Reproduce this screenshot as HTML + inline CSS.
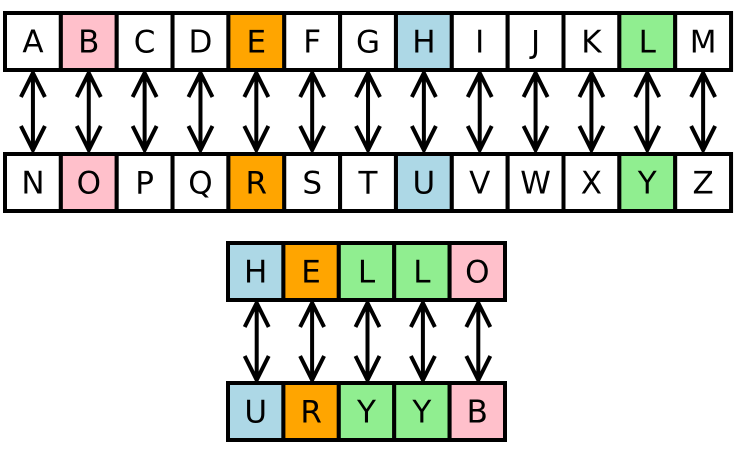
<!DOCTYPE html>
<html><head><style>body{margin:0;background:#fff}svg{display:block}</style></head><body>
<svg width="736" height="454" viewBox="0 0 736 454" xmlns="http://www.w3.org/2000/svg" font-family="'DejaVu Sans','Liberation Sans',sans-serif" font-size="31" text-anchor="middle">
<g id="g"></g>
<script>
const ns="http://www.w3.org/2000/svg",g=document.getElementById('g');
function el(t,a,txt){const e=document.createElementNS(ns,t);for(const k in a)e.setAttribute(k,a[k]);if(txt)e.textContent=txt;g.appendChild(e);}
const col={B:'#ffc0cb',O:'#ffc0cb',E:'#ffa500',R:'#ffa500',H:'#add8e6',U:'#add8e6',L:'#90ee90',Y:'#90ee90'};
function row(letters,x0,y,w,h){letters.split('').forEach((c,i)=>{el('rect',{x:x0+i*w,y:y,width:w,height:h,fill:col[c]||'#fff',stroke:'#000','stroke-width':4});el('text',{x:x0+i*w+w/2,y:y+h/2+11},c);});}
function arrow(x,y1,y2){el('path',{d:`M${x} ${y1+2}V${y2-2}M${x-12} ${y1+26}L${x} ${y1+2}L${x+12} ${y1+26}M${x-12} ${y2-26}L${x} ${y2-2}L${x+12} ${y2-26}`,fill:'none',stroke:'#000','stroke-width':4});}
const w1=55.85;
for(let i=0;i<13;i++)arrow(5+i*w1+w1/2,71,152);
for(let i=0;i<5;i++)arrow(228+i*55.4+55.4/2+1,301,382);
row('ABCDEFGHIJKLM',5,13,w1,57);
row('NOPQRSTUVWXYZ',5,154,w1,57);
row('HELLO',228,243,55.4,57);
row('URYYB',228,383,55.4,57);
</script>
</svg>
</body></html>
